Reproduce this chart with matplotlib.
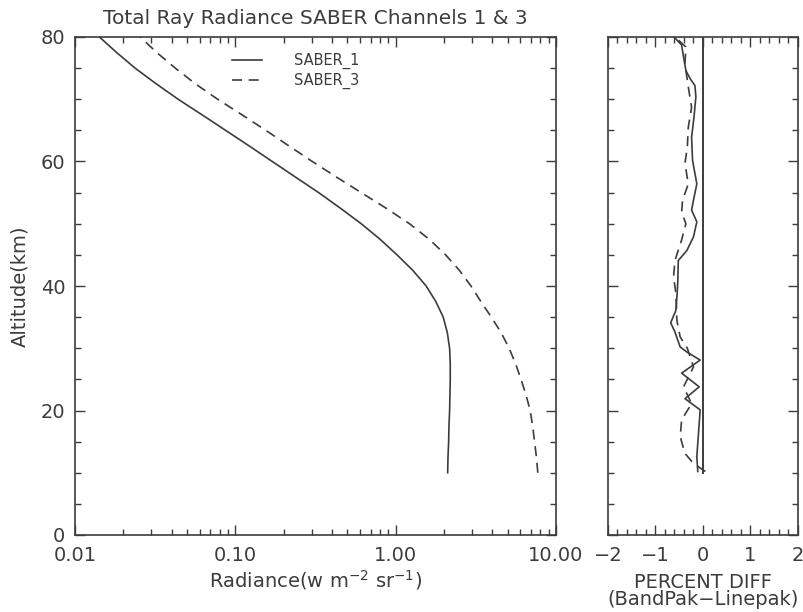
import numpy as np
import matplotlib
matplotlib.use("Agg")
import matplotlib.pyplot as plt
from matplotlib.ticker import FixedLocator, MultipleLocator, NullFormatter

# altitude grid (km) for the radiance profiles
alt = [10, 12.5, 15, 17.5, 20, 22.5, 25, 27.5, 30, 32.5, 35, 37.5, 40, 42.5, 45,
       47.5, 50, 52.5, 55, 57.5, 60, 62.5, 65, 67.5, 70, 72.5, 75, 77.5, 80]

# radiance (w m-2 sr-1)
saber_1 = [2.11, 2.12, 2.14, 2.15, 2.17, 2.18, 2.19, 2.19, 2.17, 2.10, 1.98, 1.78,
           1.55, 1.28, 1.02, 0.80, 0.61, 0.452, 0.331, 0.237, 0.170, 0.122, 0.087,
           0.062, 0.044, 0.032, 0.0237, 0.0182, 0.0142]
saber_3 = [7.7, 7.55, 7.35, 7.15, 6.9, 6.5, 6.05, 5.6, 5.1, 4.55, 3.95, 3.4, 2.95,
           2.5, 2.05, 1.62, 1.22, 0.871, 0.610, 0.427, 0.302, 0.216, 0.155, 0.110,
           0.0776, 0.0562, 0.0422, 0.0324, 0.0255]

# percent difference (BandPak - Linepak)
diff1_alt = [10.2, 12.6, 15.8, 20.1, 21.9, 23.8, 26.0, 28.1, 29.4, 30.2, 32.6, 34.1,
             36.1, 39.3, 40.9, 44.1, 45.7, 47.9, 50.3, 52.2, 53.8, 56.4, 60.2, 63.9,
             67.1, 70.4, 72.2, 73.3, 74.6, 76.8, 78.7, 80]
diff1 = [-0.11, -0.13, -0.10, -0.06, -0.38, -0.08, -0.45, -0.06, -0.34, -0.48, -0.59,
         -0.68, -0.57, -0.54, -0.53, -0.52, -0.34, -0.20, -0.13, -0.24, -0.20, -0.13,
         -0.22, -0.24, -0.19, -0.15, -0.17, -0.27, -0.36, -0.41, -0.45, -0.61]
diff3_alt = [10.2, 10.4, 11.5, 13.1, 15.8, 18.5, 21.1, 23.8, 27.0, 30.0, 31.8, 34.5,
             38.8, 41.5, 44.1, 47.4, 50.0, 51.9, 53.8, 56.4, 59.7, 62.3, 65.5, 68.7,
             72.0, 75.7, 78.4, 80]
diff3 = [0.05, 0.01, -0.20, -0.38, -0.48, -0.45, -0.24, -0.41, -0.20, -0.33, -0.48,
         -0.55, -0.57, -0.62, -0.59, -0.45, -0.36, -0.45, -0.43, -0.31, -0.38, -0.33,
         -0.31, -0.24, -0.31, -0.38, -0.36, -0.59]
zero_alt = [10, 80]
zero = [0, 0]

xticks = [0.01, 0.1, 1, 10]
xtick_labels = ["0.01", "0.10", "1.00", "10.00"]

c = "#3c3c3c"
plt.rcParams["font.family"] = "DejaVu Sans"
plt.rcParams["font.size"] = 14
plt.rcParams["text.color"] = c
plt.rcParams["axes.edgecolor"] = c
plt.rcParams["xtick.color"] = c
plt.rcParams["ytick.color"] = c
plt.rcParams["axes.labelcolor"] = c

fig = plt.figure(figsize=(8.04, 6.12), dpi=100)
ax = fig.add_axes([75 / 804, 1 - 535 / 612, 481 / 804, 498 / 612])
ax2 = fig.add_axes([608 / 804, 1 - 535 / 612, 190 / 804, 498 / 612])

# left panel
ax.plot(saber_1, alt, color=c, lw=1.2, label="SABER_1")
ax.plot(saber_3, alt, color=c, lw=1.2, dashes=(6, 4), label="SABER_3")
ax.set_xscale("log")
ax.set_xlim(0.01, 10)
ax.set_ylim(0, 80)
ax.xaxis.set_major_locator(FixedLocator(xticks))
ax.set_xticklabels(xtick_labels)
ax.xaxis.set_minor_locator(FixedLocator([m * 10.0 ** e for e in (-2, -1, 0) for m in range(2, 10)]))
ax.xaxis.set_minor_formatter(NullFormatter())
ax.yaxis.set_major_locator(MultipleLocator(20))
ax.yaxis.set_minor_locator(MultipleLocator(5))
ax.set_xlabel("Radiance(w m$^{-2}$ sr$^{-1}$)", labelpad=2)
ax.set_ylabel("Altitude(km)", labelpad=8)
ax.set_title("Total Ray Radiance SABER Channels 1 & 3", fontsize=14.5, pad=9)
ax.legend(loc="upper left", bbox_to_anchor=(0.3, 0.995), frameon=False,
          handlelength=2.0, fontsize=10.5, labelspacing=0.3, handletextpad=2.2)

# right panel
ax2.plot(diff1, diff1_alt, color=c, lw=1.2)
ax2.plot(diff3, diff3_alt, color=c, lw=1.2, dashes=(6, 4))
ax2.plot(zero, zero_alt, color=c, lw=1.4)
ax2.set_xlim(-2, 2)
ax2.set_ylim(0, 80)
ax2.xaxis.set_major_locator(MultipleLocator(1))
ax2.xaxis.set_minor_locator(MultipleLocator(0.2))
ax2.yaxis.set_major_locator(MultipleLocator(20))
ax2.yaxis.set_minor_locator(MultipleLocator(5))
ax2.set_yticklabels([])
ax2.set_xlabel("PERCENT DIFF\n(BandPak\u2212Linepak)", linespacing=0.85, labelpad=6)

for a in (ax, ax2):
    a.tick_params(which="both", direction="in", top=True, right=True, width=1.0)
    a.tick_params(which="major", length=7)
    a.tick_params(which="minor", length=4)
    a.tick_params(axis="x", which="major", pad=8)
    a.tick_params(axis="y", which="major", pad=7)
    for s in a.spines.values():
        s.set_linewidth(1.2)

fig.savefig("out.png", dpi=100)
